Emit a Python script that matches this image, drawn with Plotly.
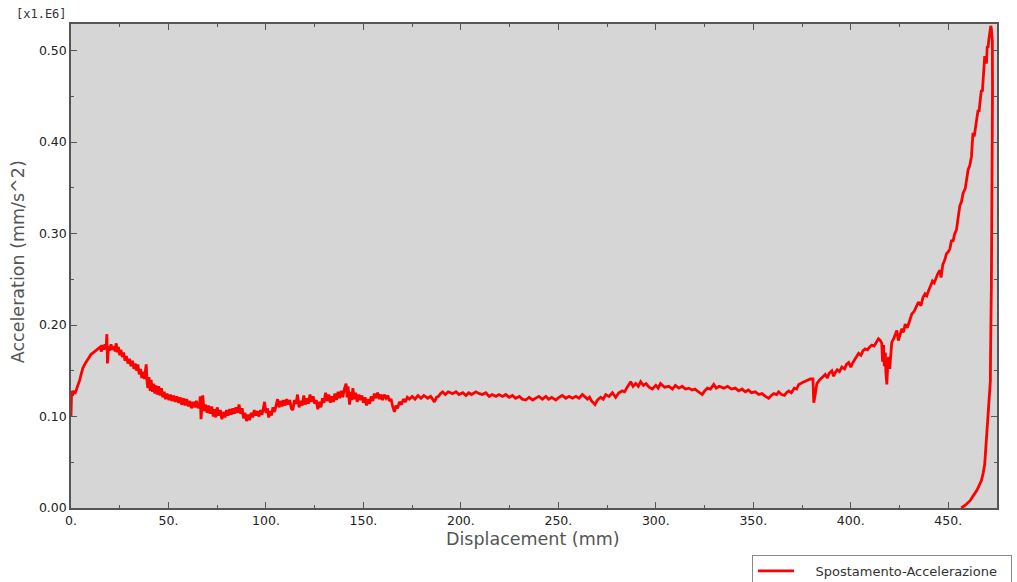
import plotly.graph_objects as go

# Displacement (mm) and acceleration (x1.E6 mm/s^2) sampled along the run
displacement = [
    0, 0.3, 0.8, 1.4, 2.2, 3.0, 3.6, 4.5, 5.3, 6.1, 7.3, 8.7, 10.3, 12.1, 13.2,
    14.0, 15.0, 15.6, 16.3, 17.0, 17.5, 18.0, 18.4, 18.7, 19.2, 19.8, 20.5,
    21.2, 22.0, 22.6, 23.2, 23.7, 24.3, 25.0, 25.6, 26.3, 27.0, 27.7, 28.4,
    29.2, 30.0, 30.8, 31.5, 32.3, 33.0, 33.7, 34.3, 35.0, 35.7, 36.3, 37.0,
    37.6, 38.3, 38.6, 39.0, 39.4, 40.0, 40.6, 41.1, 41.8, 42.4, 43.0, 43.6,
    44.3, 45.0, 45.7, 46.4, 47.1, 47.8, 48.5, 49.3, 50.2, 51.0, 51.8, 52.7,
    53.5, 54.3, 55.2, 56.0, 56.8, 57.7, 58.5, 59.3, 60.2, 61.0, 61.8, 62.7,
    63.5, 64.3, 65.2, 66.0, 66.3, 66.7, 67.2, 67.6, 68.2, 69.0, 69.8, 70.6,
    71.4, 72.2, 73.0, 73.6, 74.3, 75.0, 75.8, 76.6, 77.4, 78.2, 79.0, 79.8,
    80.6, 81.4, 82.2, 83.0, 83.8, 84.6, 85.4, 86.2, 87.0, 87.8, 88.5, 89.2,
    90.0, 90.8, 91.6, 92.4, 93.2, 94.0, 94.8, 95.6, 96.4, 97.2, 98.0, 98.8,
    99.3, 100.0, 100.7, 101.4, 102.1, 102.8, 103.6, 104.4, 105.2, 106.0,
    106.7, 107.4, 108.2, 109.0, 109.8, 110.6, 111.4, 112.2, 113.0, 113.8,
    114.6, 115.4, 116.2, 117.0, 117.8, 118.6, 119.4, 120.2, 121.0, 121.8,
    122.6, 123.4, 124.2, 125.0, 125.8, 126.6, 127.4, 128.2, 129.0, 129.8,
    130.6, 131.4, 132.2, 133.0, 133.8, 134.6, 135.4, 136.2, 137.0, 137.8,
    138.6, 139.4, 140.2, 141.1, 141.6, 142.1, 142.9, 143.5, 144.1, 144.6,
    145.3, 146.0, 146.8, 147.6, 148.4, 149.2, 150.0, 150.8, 151.6, 152.4,
    153.2, 154.0, 154.8, 155.6, 156.5, 157.3, 158.2, 159.0, 159.8, 160.6,
    161.6, 162.5, 163.3, 164.2, 165.0, 165.9, 166.7, 167.5, 168.5, 169.5,
    170.5, 171.5, 172.5, 173.6, 175.0, 176.5, 178.0, 179.5, 181.0,
    183.0, 184.5, 186.4, 187.5, 188.5, 189.5, 190.6, 192.0, 193.5, 195.7,
    197.5, 199.0, 201.0, 202.6, 204.0, 205.5, 207.7, 209.5, 211.0, 212.8,
    214.5, 216.0, 218.0, 219.5, 221.4, 223.0, 224.8, 226.5, 228.0, 230.0,
    231.5, 233.3, 235.0, 236.8, 238.4, 240.0, 241.8, 243.6, 245.0, 246.6,
    248.7, 250.3, 252.0, 253.8, 255.5, 257.2, 259.0, 260.6, 262.3, 263.6,
    264.9, 266.0, 267.0, 268.0, 268.8, 270.0, 271.7, 273.0, 274.3, 276.0,
    277.7, 279.4, 281.0, 282.8, 284.0, 285.0, 286.0, 287.1, 288.3, 289.7,
    291.0, 292.2, 293.6, 295.0, 296.5, 298.2, 300.0, 301.2, 302.4, 304.5,
    306.7, 308.5, 310.0, 311.8, 313.5, 315.2, 316.9, 318.5, 320.0, 322.0,
    323.8, 325.0, 326.5, 328.0, 329.7, 331.0, 332.5, 334.9, 336.8, 338.8,
    340.8, 342.5, 344.2, 345.9, 347.5, 349.0, 351.0, 352.8, 354.5, 356.2,
    357.9, 359.2, 360.5, 362.0, 363.0, 364.5, 366.0, 367.0, 368.2, 369.5,
    371.0, 372.2, 373.3, 375.0, 376.7, 378.0, 379.2, 380.6, 381.0, 381.6,
    382.6, 384.0, 385.5, 386.9, 388.0, 388.8, 390.3, 391.2, 392.0, 393.0,
    394.2, 395.4, 396.8, 397.8, 398.9, 400.0, 400.8, 402.0, 403.0, 404.0,
    405.2, 406.3, 407.4, 408.6, 409.7, 410.8, 412.0, 413.2, 414.2, 415.2,
    415.9, 416.3, 416.8, 417.2, 417.7, 418.0, 418.5, 419.0, 419.4, 420.0,
    420.5, 421.0, 422.0, 422.8, 423.6, 424.4, 425.3, 426.2, 427.0, 427.9,
    429.0, 430.2, 431.3, 432.5, 433.6, 434.7, 436.0, 437.0, 438.1, 439.0,
    439.8, 440.8, 441.9, 442.8, 443.6, 444.6, 445.7, 446.3, 447.2, 448.2,
    449.1, 450.0, 450.8, 451.7, 452.4, 453.2, 454.2, 455.0, 455.9, 456.8,
    457.6, 458.7, 459.5, 460.2, 461.0, 461.9, 462.3, 462.7, 463.3, 464.0,
    464.6, 465.3, 465.8, 466.2, 466.6, 467.0, 467.5, 467.9, 468.3, 468.7,
    469.1, 469.6, 470.0, 470.4, 470.8, 471.3, 471.8, 472.1, 472.6,
    472.7, 472.5, 472.1, 471.7, 471.6, 471.0, 470.4, 469.9, 469.6, 469.1,
    468.7, 467.9, 467.0, 465.7, 464.6, 462.7, 461.2, 458.7, 456.7,
]
acceleration = [
    0.100, 0.128, 0.123, 0.127, 0.126, 0.131, 0.133, 0.140, 0.147, 0.153,
    0.158, 0.163, 0.168, 0.171, 0.173,
    0.174, 0.176, 0.171, 0.178, 0.173, 0.179, 0.174, 0.190, 0.158, 0.177,
    0.172, 0.179, 0.173, 0.177, 0.171, 0.180, 0.170, 0.176, 0.167, 0.173,
    0.165, 0.170, 0.161, 0.166, 0.158, 0.163, 0.155, 0.161, 0.152, 0.158,
    0.150, 0.157, 0.146, 0.152, 0.142, 0.149, 0.141, 0.150, 0.157, 0.138,
    0.131, 0.143, 0.128, 0.140, 0.127, 0.136, 0.125, 0.134, 0.124, 0.133,
    0.123, 0.131, 0.121, 0.127, 0.119, 0.125, 0.118, 0.124, 0.117, 0.123,
    0.116, 0.122, 0.115, 0.121, 0.113, 0.120, 0.112, 0.119, 0.111, 0.117,
    0.109, 0.116, 0.110, 0.117, 0.109, 0.114, 0.122, 0.097, 0.112, 0.123,
    0.106, 0.113, 0.104, 0.112, 0.103, 0.111, 0.100, 0.108, 0.099, 0.110,
    0.101, 0.107, 0.097, 0.105, 0.099, 0.107, 0.101, 0.108, 0.102, 0.109,
    0.103, 0.110, 0.104, 0.113, 0.103, 0.109, 0.098, 0.104, 0.095, 0.102,
    0.096, 0.104, 0.099, 0.107, 0.101, 0.106, 0.100, 0.107, 0.102, 0.110,
    0.116, 0.104, 0.109, 0.099, 0.106, 0.101, 0.110, 0.105, 0.114, 0.119,
    0.110, 0.117, 0.111, 0.118, 0.112, 0.119, 0.113, 0.118, 0.109, 0.107,
    0.118, 0.114, 0.124, 0.110, 0.117, 0.112, 0.123, 0.113, 0.120, 0.114,
    0.124, 0.116, 0.122, 0.114, 0.118, 0.108, 0.116, 0.110, 0.120, 0.115,
    0.126, 0.117, 0.124, 0.115, 0.122, 0.116, 0.125, 0.118, 0.127, 0.120,
    0.128, 0.121, 0.130, 0.136, 0.121, 0.133, 0.113, 0.127, 0.118, 0.131,
    0.119, 0.126, 0.116, 0.124, 0.118, 0.123, 0.115, 0.121, 0.112, 0.119,
    0.114, 0.122, 0.117, 0.125, 0.120, 0.126, 0.119, 0.124, 0.118, 0.124,
    0.120, 0.123, 0.117, 0.119, 0.111, 0.105, 0.112, 0.109, 0.116, 0.113,
    0.119, 0.116, 0.121, 0.119, 0.122, 0.119, 0.123, 0.120, 0.123,
    0.120, 0.122, 0.116, 0.121, 0.122, 0.125, 0.127, 0.124, 0.127, 0.125,
    0.127, 0.124, 0.126, 0.123, 0.126, 0.124, 0.127, 0.125, 0.124, 0.126,
    0.122, 0.124, 0.122, 0.124, 0.122, 0.124, 0.121, 0.123, 0.120, 0.122,
    0.119, 0.118, 0.121, 0.118, 0.120, 0.122, 0.119, 0.122, 0.119, 0.121,
    0.118, 0.121, 0.123, 0.120, 0.122, 0.120, 0.122, 0.120, 0.124, 0.121,
    0.119, 0.121, 0.117, 0.115, 0.113, 0.118, 0.121, 0.119, 0.124, 0.122,
    0.126, 0.121, 0.126, 0.128, 0.127, 0.131, 0.134, 0.138, 0.133, 0.136,
    0.133, 0.138, 0.134, 0.136, 0.132, 0.130, 0.134, 0.131, 0.136, 0.132,
    0.133, 0.130, 0.134, 0.131, 0.133, 0.130, 0.131, 0.129, 0.130, 0.127,
    0.124, 0.128, 0.131, 0.130, 0.135, 0.131, 0.133, 0.131, 0.133, 0.130,
    0.131, 0.128, 0.130, 0.127, 0.129, 0.126, 0.127, 0.124, 0.125, 0.122,
    0.120, 0.123, 0.125, 0.124, 0.127, 0.124, 0.123, 0.126, 0.128, 0.126,
    0.131, 0.130, 0.135, 0.137, 0.139, 0.140, 0.141, 0.141, 0.115, 0.122,
    0.136, 0.140, 0.143, 0.146, 0.142, 0.147, 0.150, 0.144, 0.148, 0.151,
    0.149, 0.154, 0.152, 0.157, 0.159, 0.154, 0.158, 0.162, 0.165, 0.169,
    0.167, 0.172, 0.174, 0.173, 0.176, 0.178, 0.177, 0.182, 0.185, 0.183,
    0.180, 0.160, 0.178, 0.155, 0.170, 0.148, 0.135, 0.160, 0.165, 0.152,
    0.172, 0.181, 0.185, 0.190, 0.194, 0.183, 0.190, 0.196, 0.192, 0.201,
    0.197, 0.206, 0.212, 0.215, 0.221, 0.225, 0.221, 0.230, 0.234, 0.232,
    0.237, 0.243, 0.248, 0.246, 0.251, 0.256, 0.260, 0.252, 0.266, 0.271,
    0.278, 0.280, 0.283, 0.293, 0.291, 0.299, 0.304, 0.318, 0.330, 0.335,
    0.344, 0.349, 0.362, 0.370, 0.374, 0.384, 0.398, 0.410, 0.406, 0.414,
    0.425, 0.435, 0.433, 0.442, 0.451, 0.457, 0.455, 0.468, 0.479, 0.494,
    0.488, 0.486, 0.505, 0.503, 0.512, 0.519, 0.527, 0.524, 0.511,
    0.460, 0.350, 0.241, 0.170, 0.139, 0.120, 0.103, 0.092, 0.081, 0.062,
    0.048, 0.038, 0.030, 0.024, 0.019, 0.013, 0.008, 0.003, 0.000,
]

x_ticks = [0, 50, 100, 150, 200, 250, 300, 350, 400, 450]
x_tick_text = ["0.", "50.", "100.", "150.", "200.", "250.", "300.", "350.",
               "400.", "450."]
y_ticks = [0.0, 0.1, 0.2, 0.3, 0.4, 0.5]
y_tick_text = ["0.00", "0.10", "0.20", "0.30", "0.40", "0.50"]

FONT = "DejaVu Sans"
FRAME = "#555555"

fig = go.Figure()
fig.add_trace(go.Scatter(
    x=displacement,
    y=acceleration,
    mode="lines",
    name="\u00a0\u00a0\u00a0\u00a0Spostamento-Accelerazione\u00a0\u00a0",
    line=dict(color="#ff0000", width=2.8),
))

axis_common = dict(
    showline=True, linecolor=FRAME, linewidth=1.5, mirror="ticks",
    ticks="inside", ticklen=6, tickwidth=1.2, tickcolor=FRAME,
    showgrid=False, zeroline=False, tickmode="array",
    tickfont=dict(family=FONT, size=12.5, color="#222222"),
)

fig.update_layout(
    width=1017, height=582,
    margin=dict(l=71, r=20, t=24, b=74, autoexpand=False),
    paper_bgcolor="white",
    plot_bgcolor="#d6d6d6",
    showlegend=True,
    legend=dict(
        x=0.7354, y=-0.097, xanchor="left", yanchor="top",
        bgcolor="white", bordercolor="#8a8a8a", borderwidth=1,
        font=dict(family=FONT, size=13, color="#333333"),
        itemwidth=36,
    ),
    xaxis=dict(
        range=[0, 475], tickvals=x_ticks, ticktext=x_tick_text,
        minor=dict(ticks="inside", ticklen=3, dtick=25, tickcolor=FRAME),
        **axis_common,
    ),
    yaxis=dict(
        range=[0, 0.529], tickvals=y_ticks, ticktext=y_tick_text,
        minor=dict(ticks="inside", ticklen=3, dtick=0.05, tickcolor=FRAME),
        **axis_common,
    ),
    annotations=[
        dict(text="[x1.E6]", xref="paper", yref="paper", x=-0.032, y=1.021,
             xanchor="center", yanchor="middle", showarrow=False,
             font=dict(family="DejaVu Sans Mono", size=12, color="#333333")),
        dict(text="Displacement (mm)", xref="paper", yref="paper", x=0.499,
             y=-0.064, xanchor="center", yanchor="middle", showarrow=False,
             font=dict(family=FONT, size=17.5, color="#555555")),
        dict(text="Acceleration (mm/s^2)", xref="paper", yref="paper",
             x=-0.0572, y=0.508, xanchor="center", yanchor="middle",
             textangle=-90, showarrow=False,
             font=dict(family=FONT, size=17.5, color="#555555")),
    ],
)

fig.write_html("out.html")
